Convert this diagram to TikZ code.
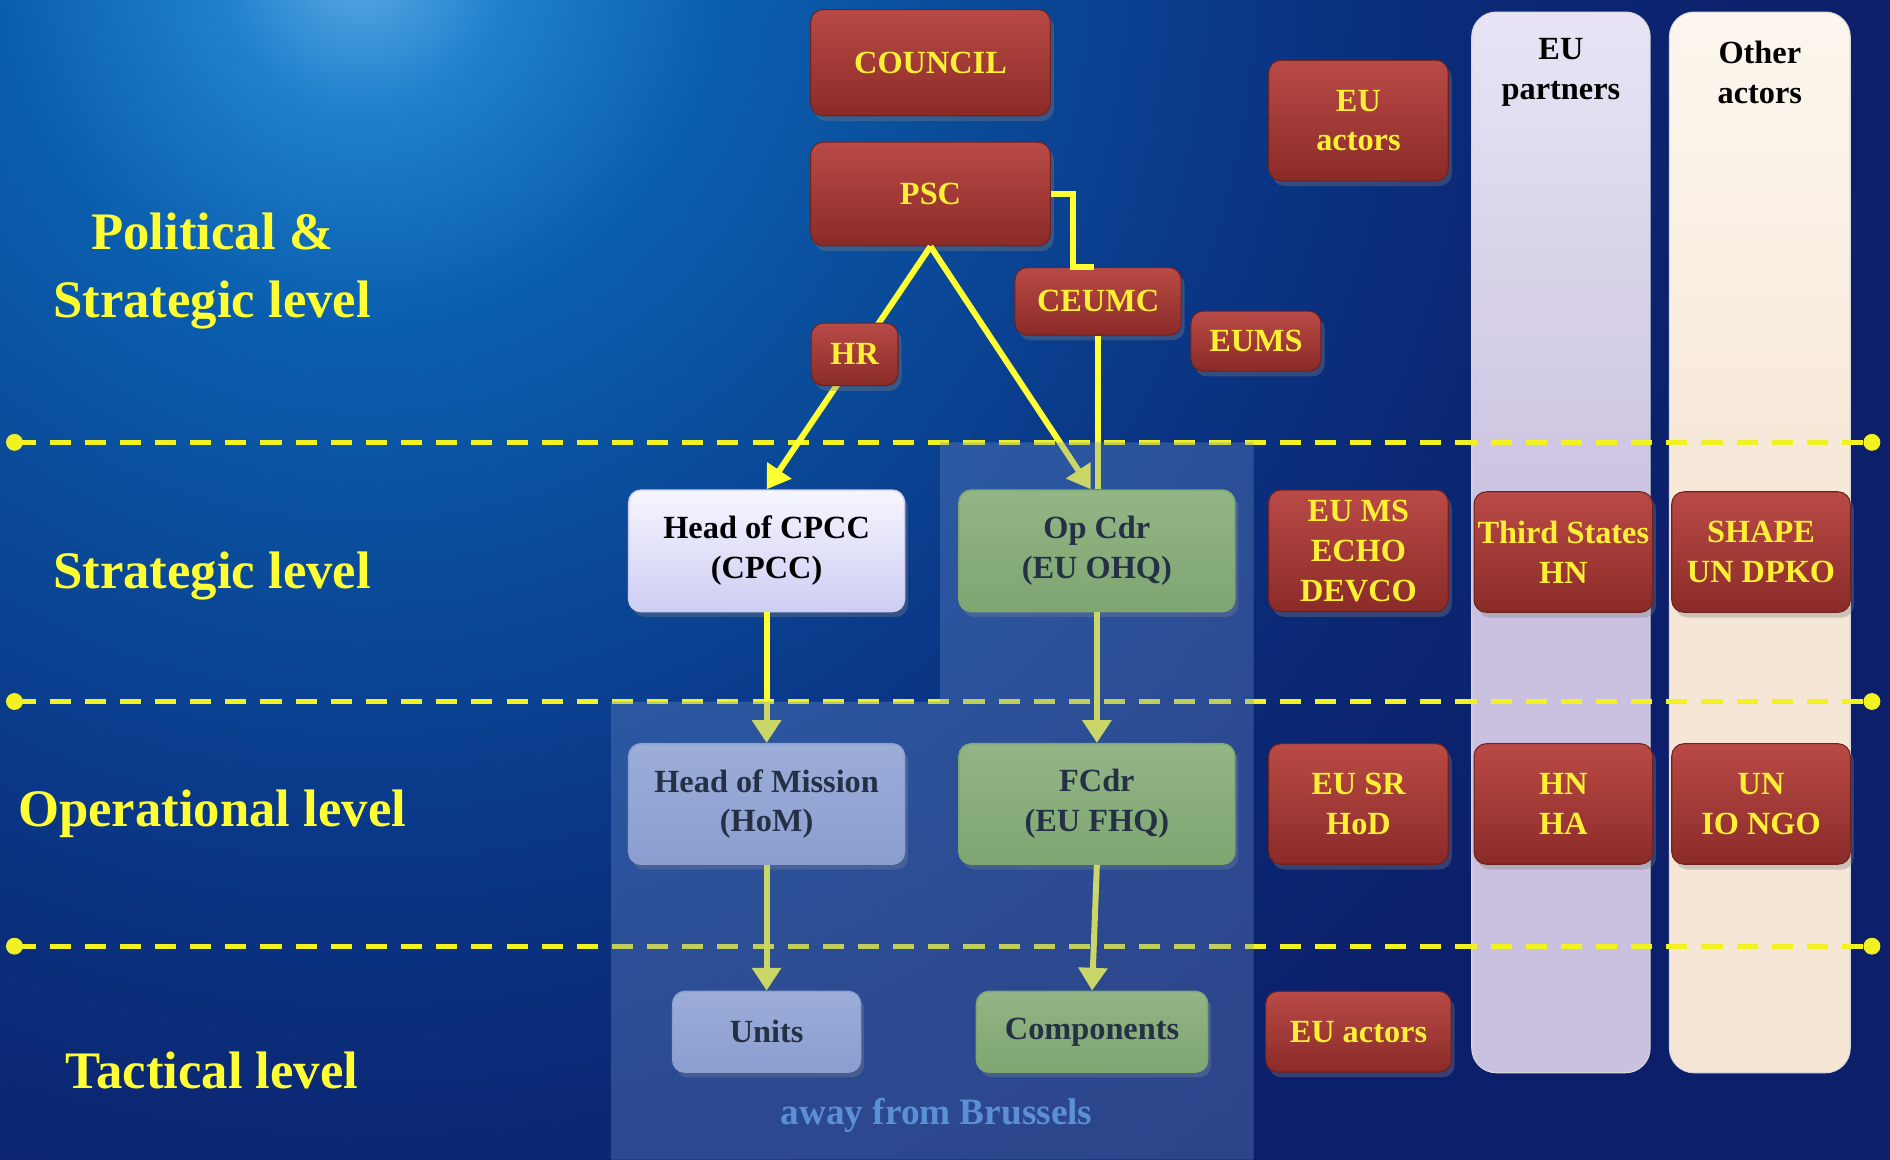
\documentclass[tikz,border=0pt]{standalone}
\usepackage{fontspec}
\setmainfont{Liberation Serif}
\usetikzlibrary{calc,shapes,arrows.meta,shadows}

\definecolor{navy}{HTML}{0C1F6A}
\definecolor{glowA}{HTML}{5AAAE4}
\definecolor{glowB}{HTML}{2080CC}
\definecolor{glowC}{HTML}{0A5EAE}
\definecolor{glowD}{HTML}{0A4E9C}
\definecolor{glowE}{HTML}{0A3888}
\definecolor{glowF}{HTML}{0B2874}
\definecolor{redtop}{HTML}{B94A46}
\definecolor{redbot}{HTML}{8A2B28}
\definecolor{txtyel}{HTML}{FFF036}
\definecolor{lvlyel}{HTML}{FFFF33}
\definecolor{dashyel}{HTML}{F2F222}
\definecolor{lavtop}{HTML}{F6F6FF}
\definecolor{lavbot}{HTML}{CDCDF3}
\definecolor{grtop}{HTML}{A8CC62}
\definecolor{grbot}{HTML}{8AB443}
\definecolor{homtop}{HTML}{B8C0E2}
\definecolor{hombot}{HTML}{9DA8D4}
\definecolor{partner}{HTML}{C9C1DF}
\definecolor{partnertop}{HTML}{E8E4F4}
\definecolor{other}{HTML}{F6E6D5}
\definecolor{othertop}{HTML}{FCF6EE}
\definecolor{panel}{HTML}{6A8CC8}
\definecolor{awaytxt}{HTML}{5B8FD6}

% the path bounding box gets the inner 50bp square, so 25bp is the circle edge
\pgfdeclareradialshading{bgglow}{\pgfpoint{0bp}{0bp}}{color(0bp)=(glowA); color(2bp)=(glowB); color(5bp)=(glowC);
    color(8bp)=(glowD); color(12bp)=(glowE); color(16bp)=(glowF); color(20bp)=(navy); color(50bp)=(navy)}

\newcommand{\boxfont}{\fontsize{9.2}{11.3}\selectfont\bfseries}
\newcommand{\levelfont}{\fontsize{15}{19.2}\selectfont\bfseries}

\begin{document}
\begin{tikzpicture}[x=0.342959pt, y=-0.342959pt,
                boxsize/.style 2 args={minimum width=#1, minimum height=#2},
                basebox/.style={rounded corners=3.5pt, inner sep=0pt, align=center, font=\boxfont,
                    drop shadow={shadow xshift=1pt, shadow yshift=-1.5pt, opacity=0.35}},
                redbox/.style={basebox, top color=redtop, bottom color=redbot, draw=redbot!80!black,
                    line width=0.3pt, text=txtyel},
                cpccbox/.style={basebox, top color=lavtop, bottom color=lavbot, draw=lavbot, text=black},
                greenbox/.style={basebox, top color=grtop, bottom color=grbot, draw=grbot, text=black},
                missionbox/.style={basebox, top color=homtop, bottom color=hombot, draw=hombot, text=black},
                column/.style={rounded corners=7pt, draw=white!70!gray, line width=0.3pt},
                title/.style={align=center, font=\boxfont, text=black, inner sep=0pt},
                level/.style={align=center, font=\levelfont, text=lvlyel, inner sep=0pt},
                levelline/.style={draw=dashyel, line width=1.4pt, dash pattern=on 6pt off 4pt},
                conn/.style={draw=lvlyel, line width=1.7pt},
                tip/.style={-{Triangle[width=8pt,length=6.5pt]}}]

    % background
    \useasboundingbox (0,0) rectangle (1568,962);
    \begin{scope}
        \clip (0,0) rectangle (1568,962);
        \fill[navy] (0,0) rectangle (1568,962);
        \shade[shading=bgglow] (300,-30) circle (1500);
    \end{scope}

    % partner columns
    \draw[column, top color=partnertop, bottom color=partner, middle color=partner] (1221,10) rectangle (1369,890);
    \draw[column, top color=othertop, bottom color=other, middle color=other] (1385,10) rectangle (1535,890);
    \node[title] (partners) at (1295,60) {EU\\partners};
    \node[title] (others) at (1460,60) {Other\\actors};

    % level separators
    \foreach \y in {367,582,785} {
        \coordinate (L\y) at (12,\y);
        \coordinate (R\y) at (1553,\y);
        \draw[levelline] (L\y) -- (R\y);
        \fill[dashyel] (L\y) circle (2.4pt) (R\y) circle (2.4pt);
    }

    % level names
    \node[level] (polstrat) at (176,225) {Political \&\\Strategic level};
    \node[level] (strat) at (176,478) {Strategic level};
    \node[level] (oper) at (176,675) {Operational level};
    \node[level] (tact) at (176,888) {Tactical level};

    % Brussels boxes
    \node[redbox, boxsize={68.2pt}{30.2pt}] (COUNCIL) at (772,52) {COUNCIL};
    \node[redbox, boxsize={68.2pt}{29.5pt}] (PSC) at (772,161) {PSC};
    \node[redbox, boxsize={51.1pt}{34.3pt}] (EUact) at (1127,100) {EU\\actors};
    \node[redbox, boxsize={47.3pt}{19.2pt}] (CEUMC) at (911,250) {CEUMC};
    \node[redbox, boxsize={37pt}{17.1pt}] (EUMS) at (1042,283) {EUMS};

    % chain of command
    \node[cpccbox, boxsize={78.5pt}{34.6pt}] (CPCC) at (636,457) {Head of CPCC\\(CPCC)};
    \node[greenbox, boxsize={78.5pt}{34.6pt}] (OpCdr) at (910,457) {Op Cdr\\(EU OHQ)};
    \node[missionbox, boxsize={78.5pt}{34.3pt}] (HoM) at (636,667) {Head of Mission\\(HoM)};
    \node[greenbox, boxsize={78.5pt}{34.3pt}] (FCdr) at (910,667) {FCdr\\(EU FHQ)};
    \node[missionbox, boxsize={53.5pt}{23pt}] (Units) at (636,856) {Units};
    \node[greenbox, boxsize={65.8pt}{23pt}] (Comp) at (906,856) {Components};

    \draw[conn, tip] (PSC.south) -- (CPCC.north);
    \draw[conn, tip] (PSC.south) -- ($(OpCdr.north)+(-5,0)$);
    \draw[conn] (PSC.east) -- ++(18,0) |- ($(CEUMC.north)+(-3,0)$);
    \draw[conn] (CEUMC.south) -- (CEUMC.south |- OpCdr.north);
    \draw[conn, tip] (CPCC.south) -- (HoM.north);
    \draw[conn, tip] (OpCdr.south) -- (FCdr.north);
    \draw[conn, tip] (HoM.south) -- (Units.north);
    \draw[conn, tip] (FCdr.south) -- (Comp.north);

    \node[redbox, boxsize={24.7pt}{17.8pt}] (HR) at (709,294) {HR};

    % other actors
    \node[redbox, boxsize={51.1pt}{34.6pt}] (EUMSb) at (1127,457) {EU MS\\ECHO\\DEVCO};
    \node[redbox, boxsize={51.1pt}{34.3pt}] (EUSR) at (1127,667) {EU SR\\HoD};
    \node[redbox, boxsize={52.8pt}{23pt}] (EUactb) at (1127,856) {EU actors};
    \node[redbox, boxsize={50.8pt}{34.3pt}] (Third) at (1297,458) {Third States\\HN};
    \node[redbox, boxsize={50.8pt}{34.3pt}] (SHAPE) at (1461,458) {SHAPE\\UN DPKO};
    \node[redbox, boxsize={50.8pt}{34.3pt}] (HNHA) at (1297,667) {HN\\HA};
    \node[redbox, boxsize={50.8pt}{34.3pt}] (UNIO) at (1461,667) {UN\\IO NGO};

    % away from Brussels
    \fill[panel, fill opacity=0.35] (780,367) -- (1040,367) -- (1040,962) -- (507,962)
        -- (507,582) -- (780,582) -- cycle;
    \node[font=\fontsize{10.6}{12}\selectfont\bfseries, text=awaytxt] (away) at (777,925) {away from Brussels};
\end{tikzpicture}
\end{document}
